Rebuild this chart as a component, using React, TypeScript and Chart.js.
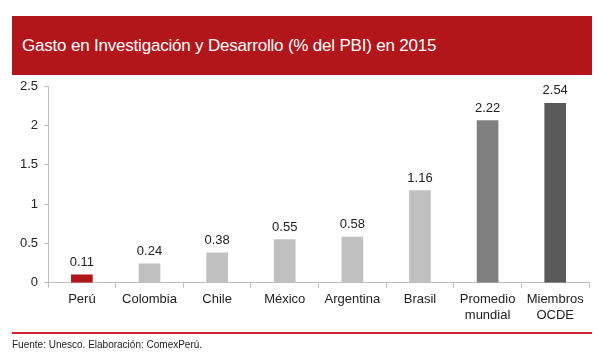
import React, { useEffect, useRef } from "react";
import { Chart, registerables } from "chart.js";

Chart.register(...registerables);

const categories: (string | string[])[] = ["Perú", "Colombia", "Chile", "México", "Argentina", "Brasil", ["Promedio", "mundial"], ["Miembros", "OCDE"]];
const barHeights = [0.1, 0.24, 0.38, 0.55, 0.58, 1.17, 2.06, 2.28];
const valueLabels = ["0.11", "0.24", "0.38", "0.55", "0.58", "1.16", "2.22", "2.54"];
const barColors = ["#B2161A", "#C0C0C0", "#C0C0C0", "#C0C0C0", "#C0C0C0", "#C0C0C0", "#808080", "#595959"];
const yTicks = [0, 0.5, 1, 1.5, 2, 2.5];

const FONT = "'Liberation Sans', Arial, sans-serif";

const labelPlugin = {
  id: "valueLabels",
  afterDatasetsDraw(chart: any) {
    const ctx = chart.ctx;
    const meta = chart.getDatasetMeta(0);
    ctx.save();
    ctx.font = `13px ${FONT}`;
    ctx.fillStyle = "#222";
    ctx.textAlign = "center";
    ctx.textBaseline = "bottom";
    meta.data.forEach((el: any, i: number) => {
      ctx.fillText(valueLabels[i], el.x, el.y - 6);
    });
    ctx.restore();
  },
};

export default function App() {
  const ref = useRef<HTMLCanvasElement>(null);
  useEffect(() => {
    document.body.style.margin = "0";
    const chart = new Chart(ref.current!, {
      type: "bar",
      data: {
        labels: categories,
        datasets: [{ data: barHeights, backgroundColor: barColors, barThickness: 21 }],
      },
      options: {
        animation: false,
        responsive: false,
        layout: { padding: { top: 86, left: 14, right: 16, bottom: 34 } },
        plugins: { legend: { display: false }, tooltip: { enabled: false } },
        scales: {
          x: {
            offset: true,
            grid: { display: true, drawOnChartArea: false, offset: true, tickLength: 5, color: "#BFBFBF" },
            border: { color: "#BFBFBF", width: 1 },
            ticks: { font: { family: FONT, size: 13 }, color: "#222", maxRotation: 0, autoSkip: false, padding: 4 },
          },
          y: {
            min: 0,
            max: 2.5,
            afterBuildTicks: (s: any) => { s.ticks = yTicks.map((v) => ({ value: v })); },
            grid: { display: true, drawOnChartArea: false, tickLength: 4, color: "#BFBFBF" },
            border: { color: "#BFBFBF", width: 1 },
            ticks: { font: { family: FONT, size: 13 }, color: "#222", padding: 6, callback: (v: any) => String(v) },
          },
        },
      },
      plugins: [labelPlugin],
    });
    return () => chart.destroy();
  }, []);

  return (
    <div style={{ position: "relative", width: 605, height: 361, background: "#fff", fontFamily: FONT }}>
      <canvas ref={ref} width={605} height={361} style={{ position: "absolute", left: 0, top: 0 }} />
      <div style={{ position: "absolute", left: 12, top: 16, width: 580, height: 59, background: "#B2161A" }}>
        <div style={{ position: "absolute", left: 10, top: 20, color: "#fff", fontSize: 17, letterSpacing: -0.2, whiteSpace: "nowrap", lineHeight: "20px", fontWeight: 500 }}>
          Gasto en Investigación y Desarrollo (% del PBI) en 2015
        </div>
      </div>
      <div style={{ position: "absolute", left: 12, top: 332, width: 580, height: 2, background: "#D3222F" }} />
      <div style={{ position: "absolute", left: 12, top: 339, color: "#222", fontSize: 10, whiteSpace: "nowrap", lineHeight: "12px" }}>
        Fuente: Unesco. Elaboración: ComexPerú.
      </div>
    </div>
  );
}
